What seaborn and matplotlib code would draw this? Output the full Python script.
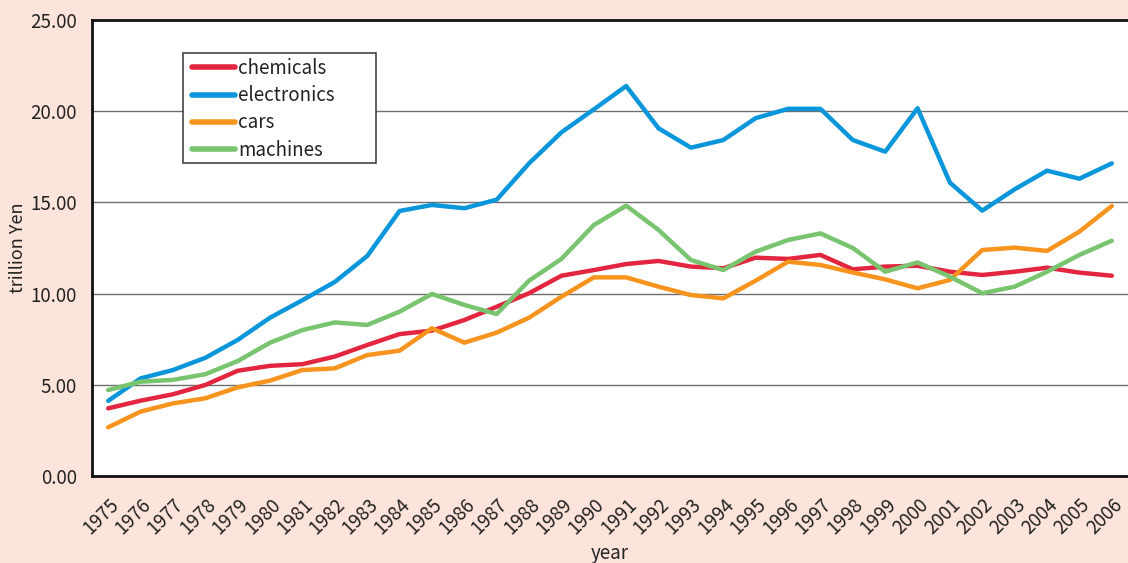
import numpy as np
import pandas as pd
import seaborn as sns
import matplotlib.pyplot as plt
from matplotlib.patches import Rectangle
from matplotlib.ticker import FixedLocator, FormatStrFormatter

years = list(range(1975, 2007))

chemicals = [3.71, 4.13, 4.48, 4.99, 5.77, 6.04, 6.13, 6.55, 7.18, 7.78, 7.97, 8.55,
             9.28, 10.02, 10.98, 11.29, 11.62, 11.79, 11.48, 11.39, 11.97, 11.90,
             12.12, 11.33, 11.48, 11.53, 11.20, 11.02, 11.20, 11.42, 11.15, 10.98]
electronics = [4.12, 5.35, 5.81, 6.48, 7.46, 8.68, 9.64, 10.64, 12.06, 14.53, 14.86, 14.68,
               15.15, 17.14, 18.84, 20.10, 21.38, 19.06, 18.00, 18.42, 19.62, 20.13,
               20.13, 18.42, 17.78, 20.16, 16.08, 14.55, 15.72, 16.74, 16.30, 17.14]
cars = [2.67, 3.53, 3.98, 4.26, 4.86, 5.23, 5.81, 5.90, 6.63, 6.87, 8.10, 7.31,
        7.86, 8.68, 9.83, 10.89, 10.89, 10.38, 9.92, 9.74, 10.71, 11.75,
        11.57, 11.16, 10.78, 10.29, 10.75, 12.39, 12.52, 12.34, 13.40, 14.80]
machines = [4.71, 5.17, 5.27, 5.58, 6.30, 7.31, 8.00, 8.42, 8.28, 9.01, 9.98, 9.38,
            8.88, 10.71, 11.90, 13.76, 14.82, 13.49, 11.84, 11.29, 12.30, 12.94,
            13.30, 12.50, 11.20, 11.71, 10.93, 10.02, 10.38, 11.20, 12.12, 12.90]

series_names = ["chemicals", "electronics", "cars", "machines"]
colors = ["#e3263f", "#0a96db", "#f7941d", "#78c46f"]

df = pd.DataFrame({"idx": np.arange(len(years)), "chemicals": chemicals,
                   "electronics": electronics, "cars": cars, "machines": machines})
long_df = df.melt(id_vars="idx", var_name="sector", value_name="value")

sns.set_style("white")
plt.rcParams['font.family'] = ['Noto Sans CJK JP', 'DejaVu Sans']

bg = "#fde4da"
txt = "#222222"
fig = plt.figure(figsize=(11.28, 5.63), dpi=100, facecolor=bg)
ax = fig.add_axes([92 / 1128, 87 / 563, 1036 / 1128, 456 / 563])
ax.set_facecolor("white")

sns.lineplot(data=long_df, x="idx", y="value", hue="sector", hue_order=series_names,
             palette=colors, linewidth=3.2, ax=ax, legend=False)

# grid lines
for v in [5, 10, 15, 20]:
    ax.axhline(v, color="#6f6f6f", linewidth=1.0, zorder=0)

ax.set_ylim(0, 25)
ax.set_xlim(-0.5, -0.5 + 1036 / 32.7)
ax.yaxis.set_major_locator(FixedLocator([0, 5, 10, 15, 20, 25]))
ax.yaxis.set_major_formatter(FormatStrFormatter("%.2f"))
ax.tick_params(axis="y", direction="in", length=5, width=1.2, labelsize=13.5,
               colors=txt, pad=11)

# categories: labels at centres, tick marks at boundaries
ax.set_xticks(np.arange(len(years)))
ax.set_xticklabels([str(y) for y in years], rotation=45, ha="right",
                   rotation_mode="anchor", fontsize=13.5, color=txt)
ax.tick_params(axis="x", which="major", length=0, pad=13)
ax.set_xticks(np.arange(len(years)) + 0.5, minor=True)
ax.tick_params(axis="x", which="minor", direction="in", length=5, width=1.2,
               color="#555555")

for s in ["left", "bottom", "top"]:
    ax.spines[s].set_visible(True)
    ax.spines[s].set_color("#111111")
    ax.spines[s].set_linewidth(2)
ax.spines["right"].set_visible(False)

ax.set_xlabel("year", fontsize=13.5, color=txt, labelpad=3)
ax.set_ylabel("trillion Yen", fontsize=13, color=txt, labelpad=2)

# legend with a fixed frame like the original
ax.add_patch(Rectangle((0.0878, 0.6864), 0.1863, 0.2412, transform=ax.transAxes,
                       facecolor="white", edgecolor="#444444", linewidth=1.2,
                       zorder=4))
handles = [plt.Line2D([0], [0], color=c, linewidth=4) for c in colors]
leg = ax.legend(handles, series_names, loc="upper left", bbox_to_anchor=(0.093, 0.925),
                fontsize=13.5, frameon=False, handlelength=2.3,
                handletextpad=0.15, borderpad=0.2, labelspacing=0.33,
                borderaxespad=0)
leg.set_zorder(5)
for t in leg.get_texts():
    t.set_color(txt)

fig.savefig("out.png", dpi=100, facecolor=bg)
